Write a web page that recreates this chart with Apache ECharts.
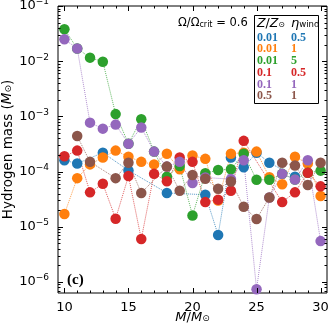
<!DOCTYPE html>
<html>
<head>
<meta charset="utf-8">
<script src="https://cdn.jsdelivr.net/npm/echarts@6/dist/echarts.min.js"></script>
<style>
html, body { margin: 0; padding: 0; background: #fff; }
#chart { width: 332px; height: 332px; }
</style>
</head>
<body>
<div id="chart"></div>
<script>
var masses = [10, 11, 12, 13, 14, 15, 16, 17, 18, 19, 20, 21, 22, 23, 24, 25, 26, 27, 28, 29, 30];

// hydrogen mass (Msun), null = no model
var h_z001_eta05 = [1.6e-4, 1.4e-4, null, 2.2e-4, null, 1.05e-4, null, null, 4.1e-5, null, null, 3.8e-5, 7.1e-6, 1.8e-4, 1.2e-4, 2.2e-4, 1.45e-4, null, 8.1e-5, null, null];
var h_z001_eta1 = [1.7e-5, 7.6e-5, 1.35e-4, 1.8e-4, 2.4e-4, 1.86e-4, 1.5e-4, 1.35e-4, 2.1e-4, 1.1e-4, 1.95e-4, 1.7e-4, 3.0e-5, 2.1e-4, 2.2e-4, 2.3e-4, 7.9e-5, 5.9e-5, 1.86e-4, 1.4e-4, 3.6e-5];
var h_z001_eta5 = [0.038, 0.017, 0.0116, 0.0098, 1.1e-3, 3.2e-4, 8.9e-4, 2.3e-4, 8.1e-5, 1.26e-4, 1.6e-5, 9.3e-5, 1.07e-4, 1.1e-4, 2.1e-4, 7.1e-5, 7.1e-5, 9.1e-5, 7.2e-5, 9.5e-5, 1.04e-4];
var h_z01_eta05 = [1.9e-4, 2.4e-4, 4.2e-5, 6.0e-5, 1.4e-5, 8.3e-5, 6.0e-6, 9.1e-5, 6.7e-5, 1.8e-4, 1.5e-4, 2.8e-5, 3.1e-5, 4.5e-5, 3.6e-4, null, null, 2.8e-5, 4.2e-5, 9.5e-5, 5.4e-5];
var h_z01_eta1 = [0.025, 0.017, 7.7e-4, 6.0e-4, 7.1e-4, 3.2e-4, 6.3e-4, 2.3e-4, 1.23e-4, 1.5e-4, 6.2e-5, 7.8e-5, null, 7.3e-5, 1.6e-4, 7.4e-7, 3.4e-5, 9.1e-5, 7.2e-5, 1.6e-4, 5.5e-6];
var h_z05_eta1 = [null, 4.4e-4, 1.5e-4, null, 7.6e-5, 1.45e-4, 4.1e-5, null, 1.23e-4, 4.5e-5, 8.7e-5, 7.4e-5, 4.9e-5, 6.6e-5, 2.3e-5, 1.38e-5, 3.4e-5, 1.45e-4, 1.29e-4, 5.7e-5, 1.45e-4];

var zLabels = ['0.01', '0.01', '0.01', '0.1', '0.1', '0.5'];
var etaLabels = ['0.5', '1', '5', '0.5', '1', '1'];
var colors = ['#1f77b4', '#ff7f0e', '#2ca02c', '#d62728', '#9467bd', '#8c564b'];
var allSeries = [h_z001_eta05, h_z001_eta1, h_z001_eta5, h_z01_eta05, h_z01_eta1, h_z05_eta1];

var xTicks = [10, 15, 20, 25, 30];

var xMin = 9.5, xMax = 30.5;
var yMin = Math.pow(10, -6.2), yMax = 0.1;

// tick marks: [x, y, length, kind] kind 0 = x tick, 1 = y tick
var tickData = [];
for (var m = 10; m <= 30; m++) tickData.push([m, yMin, m % 5 === 0 ? 5 : 2.5, 0]);
for (var n = -7; n <= -2; n++) {
    for (var k = 1; k <= 9; k++) {
        var v = k * Math.pow(10, n);
        if (v >= yMin && v <= yMax) tickData.push([xMin, v, k === 1 ? 5 : 2.5, 1]);
    }
}
tickData.push([xMin, yMax, 5, 1]);

var font = 'DejaVu Sans';
var chart = echarts.init(document.getElementById('chart'));

var series = allSeries.map(function (vals, i) {
    var pts = [];
    masses.forEach(function (mm, j) { if (vals[j] !== null) pts.push([mm, vals[j]]); });
    return {
        type: 'line',
        name: zLabels[i] + ' ' + etaLabels[i],
        data: pts,
        clip: false,
        symbol: 'circle', symbolSize: 10.5,
        itemStyle: { color: colors[i] },
        lineStyle: { color: colors[i], width: 1, type: 'dotted', opacity: 0.75 },
        z: 2
    };
});

series.push({
    type: 'custom',
    silent: true,
    clip: false,
    z: 5,
    data: tickData,
    renderItem: function (params, api) {
        var cs = params.coordSys;
        var p = api.coord([api.value(0), api.value(1)]);
        var len = api.value(2);
        var st = { stroke: '#000', lineWidth: 1 };
        if (api.value(3) === 0) {
            var x = Math.round(p[0]) + 0.5;
            return { type: 'group', children: [
                { type: 'line', shape: { x1: x, y1: cs.y + cs.height, x2: x, y2: cs.y + cs.height - len }, style: st },
                { type: 'line', shape: { x1: x, y1: cs.y, x2: x, y2: cs.y + len }, style: st }
            ] };
        }
        var y = Math.round(p[1]) + 0.5;
        return { type: 'group', children: [
            { type: 'line', shape: { x1: cs.x, y1: y, x2: cs.x + len, y2: y }, style: st },
            { type: 'line', shape: { x1: cs.x + cs.width, y1: y, x2: cs.x + cs.width - len, y2: y }, style: st }
        ] };
    }
});

var legendTexts = [];
zLabels.forEach(function (z, i) {
    var y = 37.7 + i * 11.7;
    legendTexts.push({ type: 'text', x: 257, y: y, z: 101, style: { text: z, fill: colors[i], font: 'bold 12px "Liberation Serif"', verticalAlign: 'middle' } });
    legendTexts.push({ type: 'text', x: 291, y: y, z: 101, style: { text: etaLabels[i], fill: colors[i], font: 'bold 12px "Liberation Serif"', verticalAlign: 'middle' } });
});

var option = {
    backgroundColor: '#fff',
    animation: false,
    grid: { left: 58, top: 6, right: 5, bottom: 39, containLabel: false, outerBoundsMode: 'none',
        show: true, borderColor: '#000', borderWidth: 1, backgroundColor: 'transparent' },
    xAxis: {
        type: 'value', min: xMin, max: xMax,
        axisLine: { show: false, onZero: false },
        axisTick: { show: false },
        splitLine: { show: false },
        axisLabel: { customValues: xTicks, margin: 8, fontFamily: font, fontSize: 13, color: '#000' },
        name: '{i|M}{n|/}{i|M}{s|⊙}',
        nameLocation: 'middle', nameGap: 18, nameMoveOverlap: false,
        nameTextStyle: {
            rich: {
                i: { fontFamily: font, fontStyle: 'italic', fontSize: 13, color: '#000', padding: [0, 0, 3, 0] },
                n: { fontFamily: font, fontSize: 13, color: '#000', padding: [0, 0, 3, 0] },
                s: { fontFamily: font, fontSize: 9, color: '#000' }
            }
        }
    },
    yAxis: {
        type: 'log', logBase: 10, min: yMin, max: yMax,
        axisLine: { show: false, onZero: false },
        axisTick: { show: false },
        splitLine: { show: false },
        minorTick: { show: false },
        axisLabel: {
            showMinLabel: false, margin: 9,
            formatter: function (val) {
                var e = Math.round(Math.log10(val));
                return '{b|10}{e|' + (e < 0 ? '−' : '') + Math.abs(e) + '}';
            },
            rich: {
                b: { fontFamily: font, fontSize: 13, color: '#000' },
                e: { fontFamily: font, fontSize: 9, color: '#000', padding: [0, 0, 8, 0] }
            }
        },
        name: 'Hydrogen mass ({i|M}{s|⊙})',
        nameLocation: 'middle', nameGap: 38, nameMoveOverlap: false,
        nameTextStyle: {
            fontFamily: font, fontSize: 13.5, color: '#000', padding: [0, 0, 3, 0],
            rich: {
                i: { fontFamily: font, fontStyle: 'italic', fontSize: 13.5, color: '#000', padding: [0, 0, 3, 0] },
                s: { fontFamily: font, fontSize: 9, color: '#000' }
            }
        }
    },
    series: series,
    graphic: [
        { type: 'rect', z: 100, shape: { x: 254.5, y: 15.5, width: 64, height: 88 }, style: { fill: '#fff', stroke: '#000', lineWidth: 1 } },
        { type: 'text', x: 257, y: 25, z: 101, style: {
            text: '{i|Z}{n|/}{i|Z}{s|⊙}', verticalAlign: 'middle',
            rich: {
                i: { fontFamily: font, fontStyle: 'italic', fontSize: 12.5, fill: '#000', padding: [0, 0, 3, 0] },
                n: { fontFamily: font, fontSize: 12.5, fill: '#000', padding: [0, 0, 3, 0] },
                s: { fontFamily: font, fontSize: 8, fill: '#000' }
            } } },
        { type: 'text', x: 291, y: 25, z: 101, style: {
            text: '{i|η}{s|wind}', verticalAlign: 'middle',
            rich: {
                i: { fontFamily: font, fontStyle: 'italic', fontSize: 13, fill: '#000', padding: [0, 0, 3, 0] },
                s: { fontFamily: font, fontSize: 8.5, fill: '#000' }
            } } },
        { type: 'text', x: 178, y: 25, z: 101, style: {
            text: '{n|Ω/Ω}{s|crit}{n| = 0.6}', verticalAlign: 'middle',
            rich: {
                n: { fontFamily: font, fontSize: 11.5, fill: '#000', padding: [0, 0, 3, 0] },
                s: { fontFamily: font, fontSize: 8, fill: '#000' }
            } } },
        { type: 'text', x: 67, y: 280, z: 101, style: { text: '(c)', fill: '#000', font: 'bold 15px "Liberation Serif"', verticalAlign: 'middle' } }
    ].concat(legendTexts)
};

chart.setOption(option);
</script>
</body>
</html>
